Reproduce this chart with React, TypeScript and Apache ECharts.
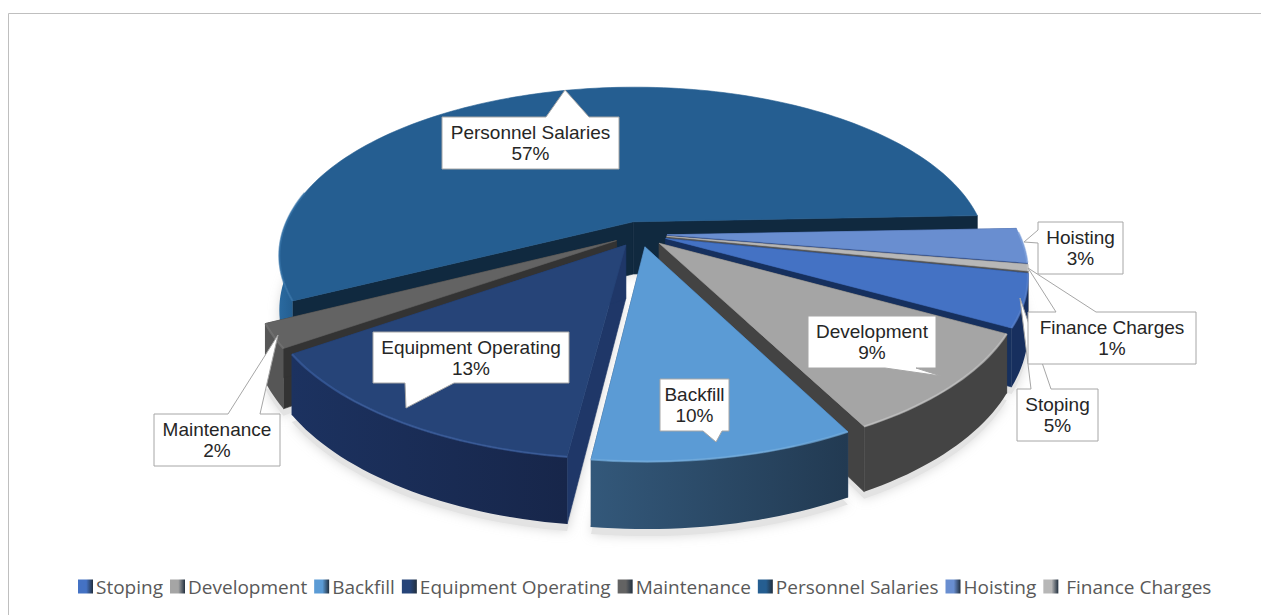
import React, { useEffect, useRef } from "react";
import * as echarts from "echarts";

const categories = ["Stoping", "Development", "Backfill", "Equipment Operating", "Maintenance", "Personnel Salaries", "Hoisting", "Finance Charges"];
const shares = [4.8, 9.3, 9.6, 13.4, 2.2, 56.6, 3.2, 0.6];
const topColors = ["#4472C4", "#A5A5A5", "#5B9BD5", "#264478", "#636363", "#255E91", "#698ED0", "#B7B7B7"];
const rimColors = ["#172F5E", "#444444", "#33587A", "#1C3260", "#565656", "#2A6AA0", "#3A5A9C", "#777777"];
const rimEndColors = ["#172F5E", "#444444", "#223A52", "#17264A", "#565656", "#1E5484", "#3A5A9C", "#777777"];
const cutColors = ["#16305E", "#434343", "#2B4A6B", "#1F3768", "#333333", "#10293F", "#2F4A85", "#555555"];
const highlightColors = ["#5F87D0", "#C9C9C9", "#78B0E0", "#3E63A5", "#7A7A7A", "#3B78AE", "#86A6DE", "#CCCCCC"];
const paintRank = [3, 4, 7, 6, 5, 0, 1, 2];

// Layout of the picture (not data).
const VIEW = { cx: 640, cy: 234, r: 352, kr: 166, depth: 53, persp: 0.2, explode: 0.077, start: 11.5 };
const CALLOUTS: Record<string, { box: number[]; tail: number[][] }> = {
  Stoping: { box: [1017, 389, 1098, 441], tail: [[1031, 389], [1020, 298], [1051, 389]] },
  Development: { box: [808, 316, 936, 368], tail: [[885, 368], [941, 376], [916, 368]] },
  Backfill: { box: [660, 379, 729, 431], tail: [[703, 431], [716, 442], [722, 431]] },
  "Equipment Operating": { box: [373, 332, 569, 383], tail: [[405, 383], [406, 408], [454, 383]] },
  Maintenance: { box: [154, 414, 280, 466], tail: [[228, 414], [278, 335], [260, 414]] },
  "Personnel Salaries": { box: [442, 117, 619, 169], tail: [[546, 117], [565, 90], [589, 117]] },
  Hoisting: { box: [1038, 222, 1123, 274], tail: [[1038, 230], [1024, 242], [1038, 243]] },
  "Finance Charges": { box: [1028, 312, 1196, 364], tail: [[1056, 312], [1028, 268], [1096, 312]] },
};

const total = shares.reduce((a, b) => a + b, 0);

function sliceAngles(index: number) {
  let before = 0;
  for (let i = 0; i < index; i++) before += shares[i];
  const a0 = VIEW.start + (before / total) * 360;
  const a1 = a0 + (shares[index] / total) * 360;
  return [a0, a1];
}

function project(u: number, v: number, z: number) {
  const w = 1 - VIEW.persp * v;
  return [VIEW.cx + (VIEW.r * u) / w, VIEW.cy + (VIEW.kr * v + VIEW.depth * z) / w];
}

function sliceGeometry(index: number) {
  const [a0, a1] = sliceAngles(index);
  const mid = ((a0 + a1) / 2) * (Math.PI / 180);
  const ox = VIEW.explode * Math.cos(mid);
  const oy = VIEW.explode * Math.sin(mid);
  const rim: number[][] = [];
  const visible: number[][] = [];
  const n = Math.max(2, Math.ceil((a1 - a0) / 1.5));
  for (let i = 0; i <= n; i++) {
    const t = ((a0 + ((a1 - a0) * i) / n) * Math.PI) / 180;
    const p = [ox + Math.cos(t), oy + Math.sin(t)];
    rim.push(p);
    if (Math.cos(t) < 0 ? Math.sin(t) > -0.2 : Math.sin(t) > -0.02) visible.push(p);
  }
  return { rim, visible, apex: [ox, oy] };
}

function poly(points: number[][], fill: any) {
  return {
    type: "polygon",
    shape: { points },
    style: { fill, stroke: typeof fill === "string" ? fill : "none", lineWidth: typeof fill === "string" ? 0.6 : 0 },
  };
}

function renderSlice(index: number) {
  const g = sliceGeometry(index);
  const top = g.rim.map((p) => project(p[0], p[1], 0));
  const bottom = g.rim.map((p) => project(p[0], p[1], 1));
  const visTop = g.visible.map((p) => project(p[0], p[1], 0));
  const visBottom = g.visible.map((p) => project(p[0], p[1], 1));
  const apexTop = project(g.apex[0], g.apex[1], 0);
  const apexBottom = project(g.apex[0], g.apex[1], 1);
  const wall = new echarts.graphic.LinearGradient(0, 0, 1, 0, [
    { offset: 0, color: rimColors[index] },
    { offset: 1, color: rimEndColors[index] },
  ]);
  const children: any[] = [];
  children.push(poly([apexTop, top[0], bottom[0], apexBottom], cutColors[index]));
  children.push(poly([apexTop, top[top.length - 1], bottom[bottom.length - 1], apexBottom], cutColors[index]));
  if (visTop.length > 1) children.push(poly([...visTop, ...visBottom.slice().reverse()], wall));
  children.push(poly([apexTop, ...top], topColors[index]));
  if (visTop.length > 1) {
    children.push({
      type: "polyline",
      shape: { points: visTop },
      style: { fill: "none", stroke: highlightColors[index], lineWidth: 2.2, opacity: 0.6 },
    });
  }
  return { type: "group", children };
}

function renderShadow(index: number) {
  const g = sliceGeometry(index);
  const bottom = g.rim.map((p) => {
    const q = project(p[0], p[1], 1);
    return [q[0], q[1] + 7];
  });
  const apexBottom = project(g.apex[0], g.apex[1], 1);
  return {
    type: "polygon",
    shape: { points: [apexBottom, ...bottom] },
    style: { fill: "#E3E3E3", shadowBlur: 12, shadowColor: "#D8D8D8" },
  };
}

function renderCallout(index: number) {
  const name = categories[index];
  const c = CALLOUTS[name];
  const [x0, y0, x1, y1] = c.box;
  const pts: number[][] = [];
  const t = c.tail;
  if (t[0][1] === y0 && t[2][1] === y0) pts.push([x0, y0], ...t, [x1, y0], [x1, y1], [x0, y1]);
  else if (t[0][1] === y1 && t[2][1] === y1) pts.push([x0, y0], [x1, y0], [x1, y1], t[2], t[1], t[0], [x0, y1]);
  else pts.push([x0, y0], [x1, y0], [x1, y1], [x0, y1], t[2], t[1], t[0]);
  const pct = Math.round((shares[index] / total) * 100);
  return {
    type: "group",
    children: [
      { type: "polygon", shape: { points: pts }, style: { fill: "#FFFFFF", stroke: "#A6A6A6", lineWidth: 1 } },
      {
        type: "text",
        style: {
          text: `${name}\n${pct}%`,
          x: (x0 + x1) / 2,
          y: (y0 + y1) / 2,
          align: "center",
          verticalAlign: "middle",
          fontFamily: "Liberation Sans",
          fontSize: 19,
          lineHeight: 21,
          fill: "#262626",
        },
      },
    ],
  };
}

function legendSwatch(color: string) {
  return new echarts.graphic.LinearGradient(0, 0, 1, 0, [
    { offset: 0, color },
    { offset: 0.55, color },
    { offset: 1, color: "#22303F" },
  ]);
}

export default function App() {
  const ref = useRef<HTMLDivElement>(null);
  useEffect(() => {
    const chart = echarts.init(ref.current!, undefined, { renderer: "svg" });
    const sliceSeries = categories.map((name, i) => ({
      type: "custom",
      name,
      coordinateSystem: "none",
      z: 10 + paintRank[i],
      silent: true,
      itemStyle: { color: topColors[i] },
      data: [[shares[i]]],
      renderItem: () => renderSlice(i),
    }));
    chart.setOption({
      animation: false,
      backgroundColor: "#FFFFFF",
      graphic: [
        {
          type: "polyline",
          z: 1,
          silent: true,
          shape: { points: [[8.5, 615], [8.5, 13.5], [1261, 13.5]] },
          style: { fill: "none", stroke: "#BFBFBF", lineWidth: 1 },
        },
      ],
      legend: {
        left: 73,
        top: 572,
        itemGap: 7,
        itemWidth: 15,
        itemHeight: 14,
        icon: "rect",
        data: categories.map((name, i) => ({ name, itemStyle: { color: legendSwatch(topColors[i]) } })),
        formatter: (name: string) => (name === "Finance Charges" ? ` ${name}` : name),
        textStyle: { fontFamily: "Open Sans", fontSize: 19, color: "#595959", padding: [0, 0, 0, -2] },
      },
      series: [
        {
          type: "custom",
          name: "shadow",
          coordinateSystem: "none",
          z: 2,
          silent: true,
          data: shares.map((s) => [s]),
          renderItem: (p: any) => renderShadow(p.dataIndex),
        },
        ...sliceSeries,
        {
          type: "custom",
          name: "callouts",
          coordinateSystem: "none",
          z: 50,
          silent: true,
          data: shares.map((s) => [s]),
          renderItem: (p: any) => renderCallout(p.dataIndex),
        },
      ],
    });
    return () => chart.dispose();
  }, []);
  return <div ref={ref} style={{ position: "fixed", left: 0, top: 0, width: 1261, height: 615 }} />;
}
